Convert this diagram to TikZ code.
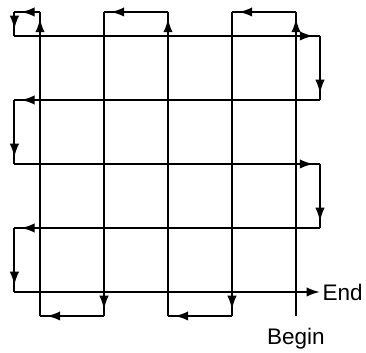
\documentclass[tikz,border=0pt]{standalone}
\usepackage{fontspec}
\setmainfont{Liberation Sans}
\usetikzlibrary{arrows.meta,decorations.markings}
\begin{document}
\begin{tikzpicture}[
  every node/.style={font=\fontsize{10}{12}\selectfont},
  seg/.style={draw,line width=0.9pt,postaction={decorate},
    decoration={markings,mark=at position -3pt with {\arrow{Latex[length=6pt,width=4.2pt]}}}},
  lastseg/.style={draw,line width=0.9pt,-{Latex[length=6pt,width=4.2pt]}}
]
\useasboundingbox (-0.625,-0.953) rectangle (5.094,4.5625);
% columns: tops and bottoms
\coordinate (t0) at (0,4.375); \coordinate (d0) at (0,-0.375);
\coordinate (t1) at (1,4.375); \coordinate (d1) at (1,-0.375);
\coordinate (t2) at (2,4.375); \coordinate (d2) at (2,-0.375);
\coordinate (t3) at (3,4.375); \coordinate (d3) at (3,-0.375);
\coordinate (t4) at (4,4.375); \coordinate (d4) at (4,-0.375);
\coordinate (c) at (-0.4,4.375);
% rows: left and right ends
\coordinate (l0) at (-0.4,0); \coordinate (r0) at (4.375,0);
\coordinate (l1) at (-0.4,1); \coordinate (r1) at (4.375,1);
\coordinate (l2) at (-0.4,2); \coordinate (r2) at (4.375,2);
\coordinate (l3) at (-0.4,3); \coordinate (r3) at (4.375,3);
\coordinate (l4) at (-0.4,4); \coordinate (r4) at (4.375,4);
\node[below=2pt] (begin) at (d4) {Begin};
\node[right,inner sep=1pt] (end) at (r0) {End};
% up and down the columns
\draw[seg] (d4) -- (t4);
\draw[seg] (t4) -- (t3);
\draw[seg] (t3) -- (d3);
\draw[seg] (d3) -- (d2);
\draw[seg] (d2) -- (t2);
\draw[seg] (t2) -- (t1);
\draw[seg] (t1) -- (d1);
\draw[seg] (d1) -- (d0);
\draw[seg] (d0) -- (t0);
\draw[seg] (t0) -- (c);
\draw[seg] (c) -- (l4);
% back and forth along the rows
\draw[seg] (l4) -- (r4);
\draw[seg] (r4) -- (r3);
\draw[seg] (r3) -- (l3);
\draw[seg] (l3) -- (l2);
\draw[seg] (l2) -- (r2);
\draw[seg] (r2) -- (r1);
\draw[seg] (r1) -- (l1);
\draw[seg] (l1) -- (l0);
\draw[lastseg] (l0) -- (end.west);
\end{tikzpicture}
\end{document}
